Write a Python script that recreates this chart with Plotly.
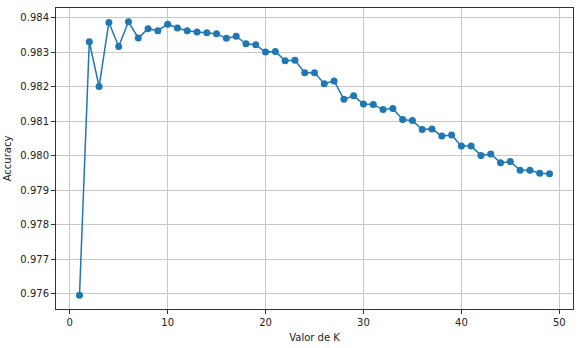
import plotly.graph_objects as go

k_values = list(range(1, 50))
accuracy = [
    0.97595, 0.98331, 0.98201, 0.98387, 0.98317, 0.98389, 0.98342, 0.98369, 0.98363, 0.98382,
    0.98371, 0.98363, 0.98359, 0.98357, 0.98354, 0.98341, 0.98347, 0.98325, 0.98322, 0.98301,
    0.98303, 0.98276, 0.98277, 0.98241, 0.98241, 0.98209, 0.98217, 0.98164, 0.98174, 0.98150,
    0.98149, 0.98134, 0.98137, 0.98105, 0.98102, 0.98076, 0.98078, 0.98057, 0.98060, 0.98028,
    0.98028, 0.98001, 0.98005, 0.97980, 0.97983, 0.97958, 0.97958, 0.97949, 0.97948,
]
x_ticks = [0, 10, 20, 30, 40, 50]
y_ticks = [0.976, 0.977, 0.978, 0.979, 0.980, 0.981, 0.982, 0.983, 0.984]

fig = go.Figure(go.Scatter(
    x=k_values, y=accuracy, mode="lines+markers",
    line=dict(color="#1f77b4", width=1.5),
    marker=dict(color="#1f77b4", size=7),
))

axis_common = dict(
    showgrid=True, gridcolor="#c8c8c8", gridwidth=1,
    showline=True, linecolor="#333333", linewidth=1, mirror=True,
    ticks="outside", ticklen=4, tickcolor="#333333",
    zeroline=False,
    tickfont=dict(family="DejaVu Sans", size=10, color="#222222"),
)

fig.update_layout(
    width=585, height=348,
    margin=dict(l=53, r=12, t=7, b=37),
    paper_bgcolor="white", plot_bgcolor="white",
    showlegend=False,
    font=dict(family="DejaVu Sans", size=10, color="#222222"),
    xaxis=dict(range=[-1.4, 51.4], tickvals=x_ticks,
               title=dict(text="Valor de K", standoff=6, font=dict(size=10)),
               **axis_common),
    yaxis=dict(range=[0.97555, 0.98429], tickvals=y_ticks, tickformat=".3f",
               title=dict(text="Accuracy", standoff=6, font=dict(size=10)),
               **axis_common),
)

fig.write_html("out.html")
